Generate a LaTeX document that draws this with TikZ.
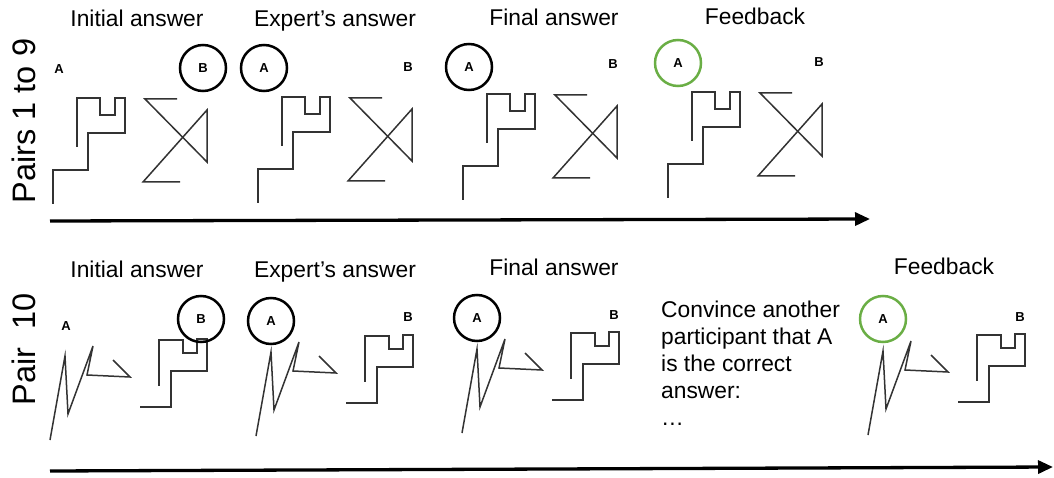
\documentclass[tikz,border=0pt]{standalone}
\usepackage{fontspec}
\setmainfont{Liberation Sans}
\usetikzlibrary{arrows.meta}
\definecolor{feedgreen}{RGB}{106,174,69}

\begin{document}
\begin{tikzpicture}[x=1pt,y=-1pt,
    title/.style={anchor=base,font=\fontsize{22.8}{27}\selectfont},
    pair label/.style={anchor=base,rotate=90,font=\fontsize{32.5}{36}\selectfont},
    choice/.style={circle,minimum size=46pt,inner sep=0pt,font=\fontsize{13}{13}\selectfont\bfseries},
    picked/.style={choice,draw,line width=2.5pt},
    correct/.style={choice,draw=feedgreen,line width=2.5pt},
    figure line/.style={draw=black!80,line width=1.5pt},
    timeline/.style={line width=3.3pt,-{Triangle[length=15pt,width=13pt]}},
    top figures/.pic={
      \draw[figure line] (0,0) -- (0,-34) -- (35,-34) -- (35,-71) -- (72,-71) -- (72,-106)
        -- (62,-106) -- (62,-89) -- (47,-89) -- (47,-106) -- (24,-106) -- (24,-57);
      \draw[figure line] (124,-105) -- (92,-105) -- (154,-42) -- (154,-94) -- (90,-22) -- (127,-22);
    },
    bottom figures/.pic={
      \draw[figure line] (0,0) -- (15,-84) -- (18,-26) -- (43,-94) -- (37,-65) -- (80,-63) -- (63,-80);
      \draw[figure line] (90,-33) -- (121,-33) -- (121,-69) -- (157,-69) -- (157,-101) -- (147,-101)
        -- (147,-87) -- (133,-87) -- (133,-100) -- (109,-100) -- (109,-54);
    }]
    \useasboundingbox (0,0) rectangle (1054,478);

    % pairs 1 to 9
    \node[pair label] (pairs) at (35,121) {Pairs 1 to 9};
    \node[title] (initial1) at (137,27) {Initial answer};
    \node[title] (expert1) at (335,27) {Expert’s answer};
    \node[title] (final1) at (554,26) {Final answer};
    \node[title] (feedback1) at (755,25) {Feedback};

    \pic at (53,204) {top figures};
    \pic at (258,203) {top figures};
    \pic at (463,200) {top figures};
    \pic at (668,198) {top figures};

    \node[choice] (a1) at (59,69) {A};
    \node[picked] (b1) at (203,68) {B};
    \node[picked] (a2) at (264,68) {A};
    \node[choice] (b2) at (408,67) {B};
    \node[picked] (a3) at (469,67) {A};
    \node[choice] (b3) at (613,64) {B};
    \node[correct] (a4) at (678,63) {A};
    \node[choice] (b4) at (819,62) {B};

    \coordinate (time1 start) at (50,221);
    \coordinate (time1 end) at (870,219);
    \draw[timeline] (time1 start) -- (time1 end);

    % pair 10
    \node[pair label] (pair10) at (35,349) {Pair~~10};
    \node[title] (initial2) at (137,277) {Initial answer};
    \node[title] (expert2) at (335,277) {Expert’s answer};
    \node[title] (final2) at (554,276) {Final answer};
    \node[title] (feedback2) at (944,274) {Feedback};

    \pic at (50,440) {bottom figures};
    \pic at (256,436) {bottom figures};
    \pic at (462,433) {bottom figures};
    \pic at (868,435) {bottom figures};

    \node[choice] (a5) at (66,326) {A};
    \node[picked] (b5) at (201,319) {B};
    \node[picked] (a6) at (271,321) {A};
    \node[choice] (b6) at (408,317) {B};
    \node[picked] (a7) at (477,318) {A};
    \node[choice] (b7) at (614,315) {B};
    \node[correct] (a8) at (883,319) {A};
    \node[choice] (b8) at (1020,317) {B};

    \node[anchor=north west,inner sep=0pt,align=left,font=\fontsize{22.8}{27}\selectfont] (convince) at (661,301)
      {Convince another\\participant that A\\is the correct\\answer:\\…};

    \coordinate (time2 start) at (50,471);
    \coordinate (time2 end) at (1053,467);
    \draw[timeline] (time2 start) -- (time2 end);
\end{tikzpicture}
\end{document}
